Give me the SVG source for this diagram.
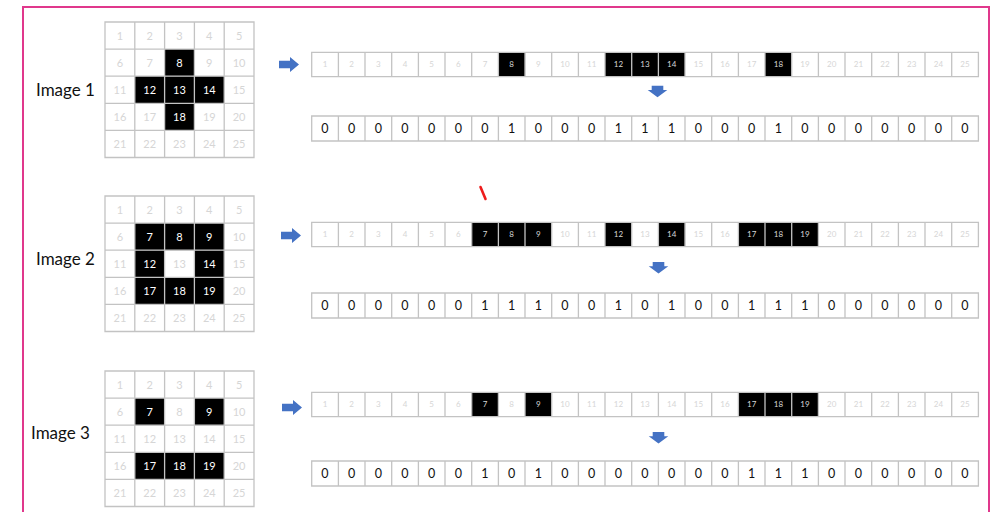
<svg xmlns="http://www.w3.org/2000/svg" xmlns:xlink="http://www.w3.org/1999/xlink" width="992" height="512" viewBox="0 0 992 512">
<style>
.ln{fill:none;stroke:#c3c3c3;stroke-width:1.3}
.blk{fill:#000}
.g{font-family:Lato,"Liberation Sans",sans-serif;font-size:11px;fill:#d6d6d6;text-anchor:middle}
.w{fill:#fff}
.s{font-family:Lato,"Liberation Sans",sans-serif;font-size:8px;fill:#d6d6d6;text-anchor:middle}
.b{font-family:Lato,"Liberation Sans",sans-serif;font-size:12.5px;fill:#111;text-anchor:middle}
.lbl{font-family:Lato,"Liberation Sans",sans-serif;font-size:17px;fill:#111}
.arr{fill:#4472c4}
</style>
<defs>
<path id="gridLines" class="ln" d="M0 0H149V135.5H0Z M29.8 0V135.5 M59.6 0V135.5 M89.4 0V135.5 M119.2 0V135.5 M0 27.1H149 M0 54.2H149 M0 81.3H149 M0 108.4H149"/>
<path id="stripLines" class="ln" d="M0 0H666.7V24.4H0Z M26.7 0V24.4 M53.3 0V24.4 M80 0V24.4 M106.7 0V24.4 M133.3 0V24.4 M160 0V24.4 M186.7 0V24.4 M213.3 0V24.4 M240 0V24.4 M266.7 0V24.4 M293.3 0V24.4 M320 0V24.4 M346.7 0V24.4 M373.3 0V24.4 M400 0V24.4 M426.7 0V24.4 M453.3 0V24.4 M480 0V24.4 M506.7 0V24.4 M533.3 0V24.4 M560 0V24.4 M586.7 0V24.4 M613.3 0V24.4 M640 0V24.4"/>
<path id="binLines" class="ln" d="M0 0H666.7V25H0Z M26.7 0V25 M53.3 0V25 M80 0V25 M106.7 0V25 M133.3 0V25 M160 0V25 M186.7 0V25 M213.3 0V25 M240 0V25 M266.7 0V25 M293.3 0V25 M320 0V25 M346.7 0V25 M373.3 0V25 M400 0V25 M426.7 0V25 M453.3 0V25 M480 0V25 M506.7 0V25 M533.3 0V25 M560 0V25 M586.7 0V25 M613.3 0V25 M640 0V25"/>
<path id="rArrow" class="arr" d="M0 3.75H11V0L20 7.5L11 15V11.25H0Z"/>
<path id="dArrow" class="arr" d="M4 0H15.6V4.3H19.6L9.8 11.6L0 4.3H4Z"/>
</defs>
<rect x="0" y="0" width="992" height="512" fill="#fff"/>
<rect id="frame" x="23" y="7" width="966" height="520" fill="none" stroke="#e0388c" stroke-width="2"/>

<g id="image1-label"><text class="lbl" x="36" y="96">Image 1</text></g>
<g id="image2-label"><text class="lbl" x="36" y="265">Image 2</text></g>
<g id="image3-label"><text class="lbl" x="31" y="439">Image 3</text></g>

<g id="image1-grid" transform="translate(105,22)">
<rect class="blk" x="59.6" y="27.1" width="29.8" height="27.1"/>
<rect class="blk" x="29.8" y="54.2" width="89.4" height="27.1"/>
<rect class="blk" x="59.6" y="81.3" width="29.8" height="27.1"/>
<use xlink:href="#gridLines"/>
<text class="g" x="14.9" y="17.5">1</text><text class="g" x="44.7" y="17.5">2</text><text class="g" x="74.5" y="17.5">3</text><text class="g" x="104.3" y="17.5">4</text><text class="g" x="134.1" y="17.5">5</text>
<text class="g" x="14.9" y="44.6">6</text><text class="g" x="44.7" y="44.6">7</text><text class="g w" x="74.5" y="44.6">8</text><text class="g" x="104.3" y="44.6">9</text><text class="g" x="134.1" y="44.6">10</text>
<text class="g" x="14.9" y="71.7">11</text><text class="g w" x="44.7" y="71.7">12</text><text class="g w" x="74.5" y="71.7">13</text><text class="g w" x="104.3" y="71.7">14</text><text class="g" x="134.1" y="71.7">15</text>
<text class="g" x="14.9" y="98.8">16</text><text class="g" x="44.7" y="98.8">17</text><text class="g w" x="74.5" y="98.8">18</text><text class="g" x="104.3" y="98.8">19</text><text class="g" x="134.1" y="98.8">20</text>
<text class="g" x="14.9" y="125.9">21</text><text class="g" x="44.7" y="125.9">22</text><text class="g" x="74.5" y="125.9">23</text><text class="g" x="104.3" y="125.9">24</text><text class="g" x="134.1" y="125.9">25</text>
</g>

<g id="image2-grid" transform="translate(105,196)">
<rect class="blk" x="29.8" y="27.1" width="89.4" height="27.1"/>
<rect class="blk" x="29.8" y="54.2" width="29.8" height="27.1"/>
<rect class="blk" x="89.4" y="54.2" width="29.8" height="27.1"/>
<rect class="blk" x="29.8" y="81.3" width="89.4" height="27.1"/>
<use xlink:href="#gridLines"/>
<text class="g" x="14.9" y="17.5">1</text><text class="g" x="44.7" y="17.5">2</text><text class="g" x="74.5" y="17.5">3</text><text class="g" x="104.3" y="17.5">4</text><text class="g" x="134.1" y="17.5">5</text>
<text class="g" x="14.9" y="44.6">6</text><text class="g w" x="44.7" y="44.6">7</text><text class="g w" x="74.5" y="44.6">8</text><text class="g w" x="104.3" y="44.6">9</text><text class="g" x="134.1" y="44.6">10</text>
<text class="g" x="14.9" y="71.7">11</text><text class="g w" x="44.7" y="71.7">12</text><text class="g" x="74.5" y="71.7">13</text><text class="g w" x="104.3" y="71.7">14</text><text class="g" x="134.1" y="71.7">15</text>
<text class="g" x="14.9" y="98.8">16</text><text class="g w" x="44.7" y="98.8">17</text><text class="g w" x="74.5" y="98.8">18</text><text class="g w" x="104.3" y="98.8">19</text><text class="g" x="134.1" y="98.8">20</text>
<text class="g" x="14.9" y="125.9">21</text><text class="g" x="44.7" y="125.9">22</text><text class="g" x="74.5" y="125.9">23</text><text class="g" x="104.3" y="125.9">24</text><text class="g" x="134.1" y="125.9">25</text>
</g>

<g id="image3-grid" transform="translate(105,371)">
<rect class="blk" x="29.8" y="27.1" width="29.8" height="27.1"/>
<rect class="blk" x="89.4" y="27.1" width="29.8" height="27.1"/>
<rect class="blk" x="29.8" y="81.3" width="89.4" height="27.1"/>
<use xlink:href="#gridLines"/>
<text class="g" x="14.9" y="17.5">1</text><text class="g" x="44.7" y="17.5">2</text><text class="g" x="74.5" y="17.5">3</text><text class="g" x="104.3" y="17.5">4</text><text class="g" x="134.1" y="17.5">5</text>
<text class="g" x="14.9" y="44.6">6</text><text class="g w" x="44.7" y="44.6">7</text><text class="g" x="74.5" y="44.6">8</text><text class="g w" x="104.3" y="44.6">9</text><text class="g" x="134.1" y="44.6">10</text>
<text class="g" x="14.9" y="71.7">11</text><text class="g" x="44.7" y="71.7">12</text><text class="g" x="74.5" y="71.7">13</text><text class="g" x="104.3" y="71.7">14</text><text class="g" x="134.1" y="71.7">15</text>
<text class="g" x="14.9" y="98.8">16</text><text class="g w" x="44.7" y="98.8">17</text><text class="g w" x="74.5" y="98.8">18</text><text class="g w" x="104.3" y="98.8">19</text><text class="g" x="134.1" y="98.8">20</text>
<text class="g" x="14.9" y="125.9">21</text><text class="g" x="44.7" y="125.9">22</text><text class="g" x="74.5" y="125.9">23</text><text class="g" x="104.3" y="125.9">24</text><text class="g" x="134.1" y="125.9">25</text>
</g>

<g id="image1-strip" transform="translate(311.7,52.3)">
<rect class="blk" x="186.7" y="0" width="26.7" height="24.4"/>
<rect class="blk" x="293.3" y="0" width="80" height="24.4"/>
<rect class="blk" x="453.3" y="0" width="26.7" height="24.4"/>
<use xlink:href="#stripLines"/>
<text class="s" x="13.3" y="15.2">1</text><text class="s" x="40" y="15.2">2</text><text class="s" x="66.7" y="15.2">3</text><text class="s" x="93.3" y="15.2">4</text><text class="s" x="120" y="15.2">5</text><text class="s" x="146.7" y="15.2">6</text><text class="s" x="173.3" y="15.2">7</text><text class="s w" x="200" y="15.2">8</text><text class="s" x="226.7" y="15.2">9</text><text class="s" x="253.3" y="15.2">10</text><text class="s" x="280" y="15.2">11</text><text class="s w" x="306.7" y="15.2">12</text><text class="s w" x="333.3" y="15.2">13</text><text class="s w" x="360" y="15.2">14</text><text class="s" x="386.7" y="15.2">15</text><text class="s" x="413.3" y="15.2">16</text><text class="s" x="440" y="15.2">17</text><text class="s w" x="466.7" y="15.2">18</text><text class="s" x="493.3" y="15.2">19</text><text class="s" x="520" y="15.2">20</text><text class="s" x="546.7" y="15.2">21</text><text class="s" x="573.3" y="15.2">22</text><text class="s" x="600" y="15.2">23</text><text class="s" x="626.7" y="15.2">24</text><text class="s" x="653.3" y="15.2">25</text>
</g>

<g id="image2-strip" transform="translate(311.7,222.3)">
<rect class="blk" x="160" y="0" width="80" height="24.4"/>
<rect class="blk" x="293.3" y="0" width="26.7" height="24.4"/>
<rect class="blk" x="346.7" y="0" width="26.7" height="24.4"/>
<rect class="blk" x="426.7" y="0" width="80" height="24.4"/>
<use xlink:href="#stripLines"/>
<text class="s" x="13.3" y="15.2">1</text><text class="s" x="40" y="15.2">2</text><text class="s" x="66.7" y="15.2">3</text><text class="s" x="93.3" y="15.2">4</text><text class="s" x="120" y="15.2">5</text><text class="s" x="146.7" y="15.2">6</text><text class="s w" x="173.3" y="15.2">7</text><text class="s w" x="200" y="15.2">8</text><text class="s w" x="226.7" y="15.2">9</text><text class="s" x="253.3" y="15.2">10</text><text class="s" x="280" y="15.2">11</text><text class="s w" x="306.7" y="15.2">12</text><text class="s" x="333.3" y="15.2">13</text><text class="s w" x="360" y="15.2">14</text><text class="s" x="386.7" y="15.2">15</text><text class="s" x="413.3" y="15.2">16</text><text class="s w" x="440" y="15.2">17</text><text class="s w" x="466.7" y="15.2">18</text><text class="s w" x="493.3" y="15.2">19</text><text class="s" x="520" y="15.2">20</text><text class="s" x="546.7" y="15.2">21</text><text class="s" x="573.3" y="15.2">22</text><text class="s" x="600" y="15.2">23</text><text class="s" x="626.7" y="15.2">24</text><text class="s" x="653.3" y="15.2">25</text>
</g>

<g id="image3-strip" transform="translate(311.7,392.3)">
<rect class="blk" x="160" y="0" width="26.7" height="24.4"/>
<rect class="blk" x="213.3" y="0" width="26.7" height="24.4"/>
<rect class="blk" x="426.7" y="0" width="80" height="24.4"/>
<use xlink:href="#stripLines"/>
<text class="s" x="13.3" y="15.2">1</text><text class="s" x="40" y="15.2">2</text><text class="s" x="66.7" y="15.2">3</text><text class="s" x="93.3" y="15.2">4</text><text class="s" x="120" y="15.2">5</text><text class="s" x="146.7" y="15.2">6</text><text class="s w" x="173.3" y="15.2">7</text><text class="s" x="200" y="15.2">8</text><text class="s w" x="226.7" y="15.2">9</text><text class="s" x="253.3" y="15.2">10</text><text class="s" x="280" y="15.2">11</text><text class="s" x="306.7" y="15.2">12</text><text class="s" x="333.3" y="15.2">13</text><text class="s" x="360" y="15.2">14</text><text class="s" x="386.7" y="15.2">15</text><text class="s" x="413.3" y="15.2">16</text><text class="s w" x="440" y="15.2">17</text><text class="s w" x="466.7" y="15.2">18</text><text class="s w" x="493.3" y="15.2">19</text><text class="s" x="520" y="15.2">20</text><text class="s" x="546.7" y="15.2">21</text><text class="s" x="573.3" y="15.2">22</text><text class="s" x="600" y="15.2">23</text><text class="s" x="626.7" y="15.2">24</text><text class="s" x="653.3" y="15.2">25</text>
</g>

<g id="image1-binary" transform="translate(311.7,116)">
<use xlink:href="#binLines"/>
<text class="b" x="13.3" y="17">0</text><text class="b" x="40" y="17">0</text><text class="b" x="66.7" y="17">0</text><text class="b" x="93.3" y="17">0</text><text class="b" x="120" y="17">0</text><text class="b" x="146.7" y="17">0</text><text class="b" x="173.3" y="17">0</text><text class="b" x="200" y="17">1</text><text class="b" x="226.7" y="17">0</text><text class="b" x="253.3" y="17">0</text><text class="b" x="280" y="17">0</text><text class="b" x="306.7" y="17">1</text><text class="b" x="333.3" y="17">1</text><text class="b" x="360" y="17">1</text><text class="b" x="386.7" y="17">0</text><text class="b" x="413.3" y="17">0</text><text class="b" x="440" y="17">0</text><text class="b" x="466.7" y="17">1</text><text class="b" x="493.3" y="17">0</text><text class="b" x="520" y="17">0</text><text class="b" x="546.7" y="17">0</text><text class="b" x="573.3" y="17">0</text><text class="b" x="600" y="17">0</text><text class="b" x="626.7" y="17">0</text><text class="b" x="653.3" y="17">0</text>
</g>

<g id="image2-binary" transform="translate(311.7,293)">
<use xlink:href="#binLines"/>
<text class="b" x="13.3" y="17">0</text><text class="b" x="40" y="17">0</text><text class="b" x="66.7" y="17">0</text><text class="b" x="93.3" y="17">0</text><text class="b" x="120" y="17">0</text><text class="b" x="146.7" y="17">0</text><text class="b" x="173.3" y="17">1</text><text class="b" x="200" y="17">1</text><text class="b" x="226.7" y="17">1</text><text class="b" x="253.3" y="17">0</text><text class="b" x="280" y="17">0</text><text class="b" x="306.7" y="17">1</text><text class="b" x="333.3" y="17">0</text><text class="b" x="360" y="17">1</text><text class="b" x="386.7" y="17">0</text><text class="b" x="413.3" y="17">0</text><text class="b" x="440" y="17">1</text><text class="b" x="466.7" y="17">1</text><text class="b" x="493.3" y="17">1</text><text class="b" x="520" y="17">0</text><text class="b" x="546.7" y="17">0</text><text class="b" x="573.3" y="17">0</text><text class="b" x="600" y="17">0</text><text class="b" x="626.7" y="17">0</text><text class="b" x="653.3" y="17">0</text>
</g>

<g id="image3-binary" transform="translate(311.7,461)">
<use xlink:href="#binLines"/>
<text class="b" x="13.3" y="17">0</text><text class="b" x="40" y="17">0</text><text class="b" x="66.7" y="17">0</text><text class="b" x="93.3" y="17">0</text><text class="b" x="120" y="17">0</text><text class="b" x="146.7" y="17">0</text><text class="b" x="173.3" y="17">1</text><text class="b" x="200" y="17">0</text><text class="b" x="226.7" y="17">1</text><text class="b" x="253.3" y="17">0</text><text class="b" x="280" y="17">0</text><text class="b" x="306.7" y="17">0</text><text class="b" x="333.3" y="17">0</text><text class="b" x="360" y="17">0</text><text class="b" x="386.7" y="17">0</text><text class="b" x="413.3" y="17">0</text><text class="b" x="440" y="17">1</text><text class="b" x="466.7" y="17">1</text><text class="b" x="493.3" y="17">1</text><text class="b" x="520" y="17">0</text><text class="b" x="546.7" y="17">0</text><text class="b" x="573.3" y="17">0</text><text class="b" x="600" y="17">0</text><text class="b" x="626.7" y="17">0</text><text class="b" x="653.3" y="17">0</text>
</g>

<g id="connectors">
<use xlink:href="#rArrow" transform="translate(279,57)"/>
<use xlink:href="#rArrow" transform="translate(281,228)"/>
<use xlink:href="#rArrow" transform="translate(282,400)"/>
<use xlink:href="#dArrow" transform="translate(647.7,85.7)"/>
<use xlink:href="#dArrow" transform="translate(648.7,262)"/>
<use xlink:href="#dArrow" transform="translate(648.7,432)"/>
</g>

<g id="annotation">
<line x1="480.5" y1="187" x2="485.5" y2="199" stroke="#ee1c1c" stroke-width="2.6" stroke-linecap="round"/>
</g>
</svg>
